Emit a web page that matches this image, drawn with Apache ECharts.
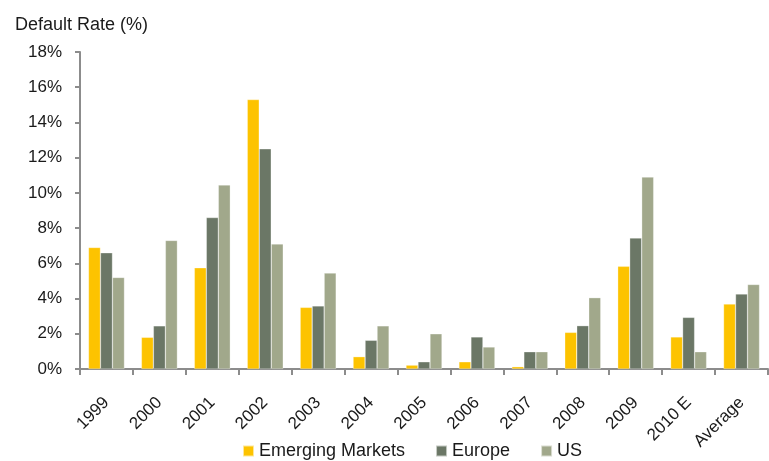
<!DOCTYPE html>
<html>
<head>
<meta charset="utf-8">
<title>Default Rate</title>
<script src="https://cdn.jsdelivr.net/npm/echarts@6/dist/echarts.min.js"></script>
<style>
  html, body { margin: 0; padding: 0; background: #fff; }
  #chart { width: 769px; height: 461px; }
</style>
</head>
<body>
<div id="chart"></div>
<script>
// categories and series (default rate, %)
const years = ['1999', '2000', '2001', '2002', '2003', '2004', '2005', '2006', '2007', '2008', '2009', '2010 E', 'Average'];
const emergingMarkets = [6.9, 1.8, 5.75, 15.3, 3.5, 0.7, 0.22, 0.41, 0.13, 2.08, 5.83, 1.82, 3.69];
const europe = [6.6, 2.45, 8.6, 12.5, 3.58, 1.63, 0.41, 1.82, 0.98, 2.46, 7.44, 2.93, 4.26];
const us = [5.2, 7.3, 10.45, 7.1, 5.45, 2.45, 2.0, 1.25, 0.98, 4.05, 10.9, 0.98, 4.8];

const font = 'Liberation Sans';
const textColor = '#1a1a1a';
const axisColor = '#8c8c8c';

document.addEventListener('DOMContentLoaded', function() {
  const chart = echarts.init(document.getElementById('chart'));

  // bar style shared by all series
  function barSeries(name, data, color) {
    return {
      name: name,
      type: 'bar',
      data: data,
      barGap: '0%',
      barCategoryGap: '32%',
      itemStyle: { color: color, borderColor: 'rgba(255,255,255,0.6)', borderWidth: 0.5 }
    };
  }

  chart.setOption({
    animation: false,
    textStyle: { fontFamily: font },
    title: {
      text: 'Default Rate (%)',
      left: 10,
      top: 11,
      textStyle: { fontFamily: font, fontSize: 18, fontWeight: 'normal', color: textColor }
    },
    legend: {
      top: 437,
      left: 237,
      itemWidth: 11,
      itemHeight: 11,
      itemGap: 30,
      icon: 'rect',
      textStyle: { fontFamily: font, fontSize: 18, color: textColor },
      data: ['Emerging Markets', 'Europe', 'US']
    },
    grid: { left: 80, right: 1, top: 52, bottom: 92, containLabel: false },
    xAxis: {
      type: 'category',
      data: years,
      axisLine: { lineStyle: { color: axisColor, width: 2 } },
      axisTick: { show: true, length: 6, lineStyle: { color: axisColor, width: 2 } },
      axisLabel: {
        rotate: 45,
        interval: 0,
        margin: 31,
        fontSize: 17,
        color: textColor,
        fontFamily: font
      }
    },
    yAxis: {
      type: 'value',
      min: 0,
      max: 18,
      interval: 2,
      splitLine: { show: false },
      axisLine: { show: true, lineStyle: { color: axisColor, width: 2 } },
      axisTick: { show: true, length: 5, lineStyle: { color: axisColor, width: 2 } },
      axisLabel: {
        formatter: '{value}%',
        fontSize: 17,
        color: textColor,
        margin: 18,
        fontFamily: font
      }
    },
    series: [
      barSeries('Emerging Markets', emergingMarkets, '#FDC300'),
      barSeries('Europe', europe, '#6B7766'),
      barSeries('US', us, '#A1A88B')
    ]
  });
});
</script>
</body>
</html>
